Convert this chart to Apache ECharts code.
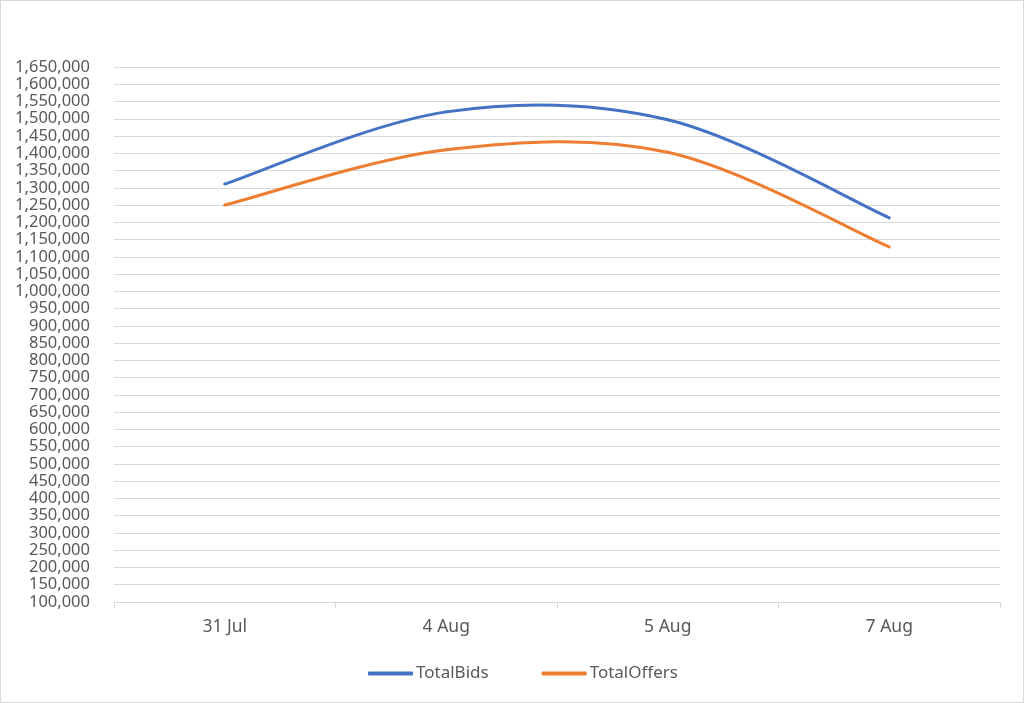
<!DOCTYPE html>
<html>
<head>
<meta charset="utf-8">
<script src="https://cdn.jsdelivr.net/npm/echarts@6/dist/echarts.min.js"></script>
<style>
html,body{margin:0;padding:0;background:#fff;}
#c{width:1022px;height:701px;border:1px solid #d9d9d9;}
</style>
</head>
<body>
<div id="c"></div>
<script>
const categories = ['31 Jul', '4 Aug', '5 Aug', '7 Aug'];
const totalBids = [1311000, 1520000, 1497000, 1213000];
const totalOffers = [1250000, 1410000, 1403000, 1129000];

const font = 'Noto Sans';
const textColor = '#595959';

// Excel-like smoothed line: cubic Bezier segments through the data points,
// positioned through the chart's own axes (api.coord).
function smoothLine(name, values, color) {
  return {
    name: name,
    type: 'custom',
    data: values.map((v, i) => [i, v]),
    encode: {x: 0, y: 1},
    itemStyle: {color: color},
    renderItem: function (params, api) {
      const n = values.length;
      const i = params.dataIndex;
      if (i >= n - 1) return null;
      const P = k => {
        const j = Math.max(0, Math.min(n - 1, k));
        return api.coord([j, values[j]]);
      };
      const p0 = P(i - 1), p1 = P(i), p2 = P(i + 1), p3 = P(i + 2);
      const t = 1 / 6;
      return {
        type: 'bezierCurve',
        shape: {
          x1: p1[0], y1: p1[1], x2: p2[0], y2: p2[1],
          cpx1: p1[0] + (p2[0] - p0[0]) * t, cpy1: p1[1] + (p2[1] - p0[1]) * t,
          cpx2: p2[0] - (p3[0] - p1[0]) * t, cpy2: p2[1] - (p3[1] - p1[1]) * t
        },
        style: {stroke: color, lineWidth: 3, fill: null, lineCap: 'round'}
      };
    }
  };
}

const chart = echarts.init(document.getElementById('c'));
chart.setOption({
  animation: false,
  grid: {left: 113, right: 23, top: 66, bottom: 100, containLabel: false},
  legend: {
    top: 664,
    left: 367,
    padding: 0,
    itemWidth: 45,
    itemHeight: 4,
    itemGap: 53,
    icon: 'roundRect',
    textStyle: {fontFamily: font, fontSize: 17, color: textColor, padding: [0, 0, 0, -2]},
    data: ['TotalBids', 'TotalOffers']
  },
  xAxis: {
    type: 'category',
    data: categories,
    boundaryGap: true,
    axisLine: {lineStyle: {color: '#d9d9d9', width: 1}},
    axisTick: {show: true, length: 6, lineStyle: {color: '#d9d9d9'}},
    axisLabel: {fontFamily: font, fontSize: 17.5, color: textColor, margin: 16}
  },
  yAxis: {
    type: 'value',
    min: 100000,
    max: 1650000,
    interval: 50000,
    axisLine: {show: false},
    axisTick: {show: false},
    splitLine: {lineStyle: {color: '#d9d9d9', width: 1}},
    axisLabel: {
      fontFamily: font, fontSize: 16.5, lineHeight: 13, color: textColor, margin: 24,
      showMinLabel: true, showMaxLabel: true, hideOverlap: false,
      formatter: v => v.toLocaleString('en-US')
    }
  },
  series: [
    smoothLine('TotalBids', totalBids, '#4472C4'),
    smoothLine('TotalOffers', totalOffers, '#ED7D31')
  ]
});
</script>
</body>
</html>
